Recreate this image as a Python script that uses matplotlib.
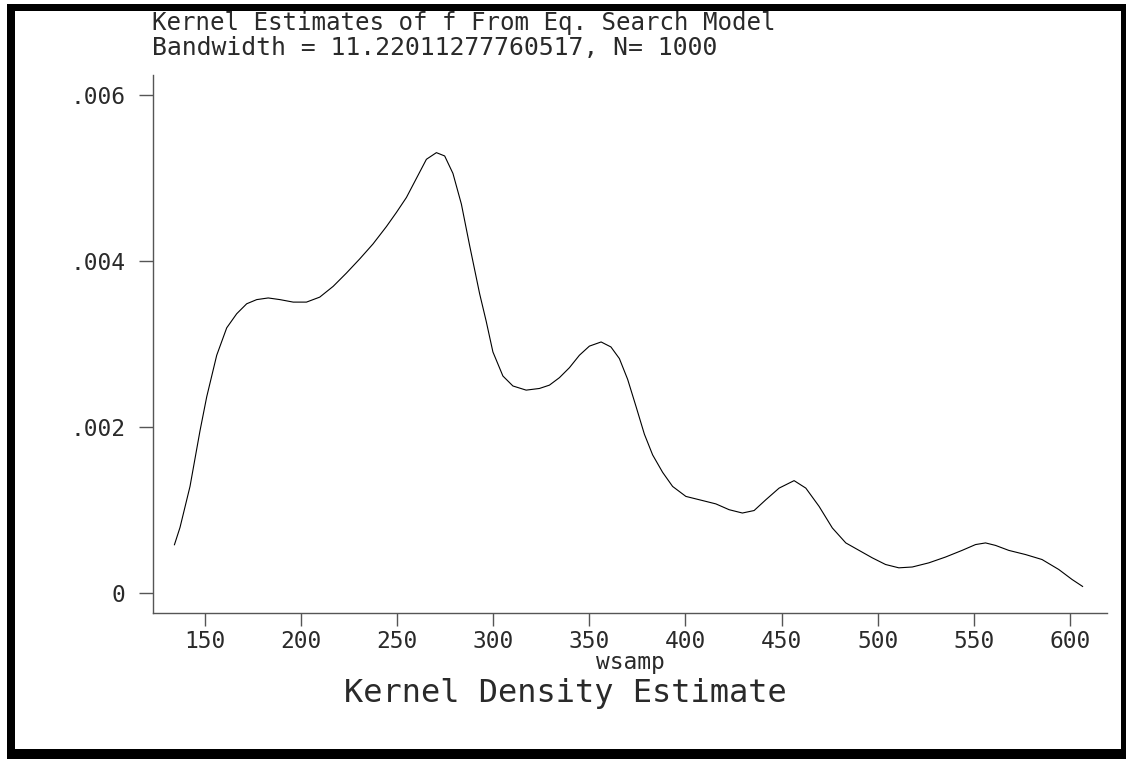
import matplotlib
matplotlib.use('Agg')
import matplotlib.pyplot as plt
from matplotlib.patches import Rectangle

# kernel density of wsamp
wsamp = [134.1, 137.0, 142.2, 147.4, 150.9, 156.1, 161.3, 166.5, 171.7, 176.9,
         182.9, 189.0, 195.9, 202.8, 209.7, 216.7, 223.6, 230.5, 237.4, 244.4,
         249.6, 254.8, 260.0, 265.2, 270.4, 274.7, 279.0, 283.4, 287.7, 292.9,
         296.3, 299.8, 305.0, 310.2, 317.1, 324.0, 329.2, 334.4, 339.6, 344.8,
         350.0, 356.1, 361.2, 365.6, 369.9, 374.3, 378.6, 382.9, 388.1, 393.3,
         400.2, 408.9, 415.8, 422.7, 429.6, 435.7, 441.8, 448.7, 456.5, 462.6,
         469.5, 476.4, 483.4, 490.3, 497.2, 504.1, 511.0, 518.0, 526.6, 535.3,
         543.9, 550.9, 556.1, 561.3, 568.2, 576.9, 585.5, 594.2, 601.1, 606.6]
density = [.000578, .000786, .00128, .00195, .00236, .00286, .00319, .00336, .00348, .00353,
           .00355, .00353, .00350, .00350, .00356, .00369, .00385, .00402, .00420, .00441,
           .00458, .00476, .00499, .00522, .00530, .00526, .00505, .00468, .00418, .00360,
           .00327, .00290, .00261, .00249, .00244, .00246, .00250, .00259, .00271, .00286,
           .00297, .00302, .00296, .00282, .00257, .00224, .00191, .00166, .00145, .00128,
           .00116, .00111, .00107, .00100, .00096, .00099, .00112, .00126, .00135, .00126,
           .00104, .00078, .00060, .00051, .00042, .00034, .00030, .00031, .00036, .00043,
           .00051, .00058, .00060, .00057, .00051, .00046, .00040, .00028, .00016, .000076]

xticks = [150, 200, 250, 300, 350, 400, 450, 500, 550, 600]
yticks = [0, .002, .004, .006]
ylabels = ['0', '.002', '.004', '.006']

title1 = 'Kernel Estimates of f From Eq. Search Model'
title2 = 'Bandwidth = 11.22011277760517, N= 1000'

W, H = 1126, 759
fig = plt.figure(figsize=(W/100, H/100), dpi=100)
font = 'DejaVu Sans Mono'
txtcol = '#2a2a2a'
axcol = '#555555'

ax = fig.add_axes([153/W, 1 - 613/H, (1107-153)/W, (613-75)/H])
ax.plot(wsamp, density, color='black', lw=0.8)
ax.set_xlim(122.95, 619.3)
ax.set_ylim(-0.000244, 0.006235)

ax.set_xticks(xticks)
ax.set_xticklabels([str(t) for t in xticks])
ax.set_yticks(yticks)
ax.set_yticklabels(ylabels)
for s in ['top', 'right']:
    ax.spines[s].set_visible(False)
for s in ['left', 'bottom']:
    ax.spines[s].set_color(axcol)
    ax.spines[s].set_linewidth(1.0)
ax.tick_params(axis='x', direction='out', length=9, width=1.0, color=axcol, pad=3,
               labelsize=16.5, labelcolor=txtcol)
ax.tick_params(axis='y', direction='out', length=10, width=1.0, color=axcol, pad=10,
               labelsize=16.5, labelcolor=txtcol)
for lab in ax.get_xticklabels() + ax.get_yticklabels():
    lab.set_family(font)

# titles and captions, placed in pixel terms
fig.text(152/W, 1 - 30/H, title1, family=font, fontsize=17.4, color=txtcol, va='baseline')
fig.text(152/W, 1 - 55/H, title2, family=font, fontsize=17.8, color=txtcol, va='baseline')
fig.text(630/W, 1 - 669/H, 'wsamp', family=font, fontsize=16.5, color=txtcol,
         ha='center', va='baseline')
fig.text(565/W, 1 - 702/H, 'Kernel Density Estimate', family=font, fontsize=23,
         color=txtcol, ha='center', va='baseline')

# heavy black frame round the page
for x0, y0, w, h in [(7, 4, 8, H), (7, 4, W, 7), (1121, 4, 10, H), (7, 749, W, 12)]:
    fig.patches.append(Rectangle((x0/W, 1 - (y0 + h)/H), w/W, h/H, transform=fig.transFigure,
                                 facecolor='black', edgecolor='none', zorder=5))

fig.savefig('out.png', dpi=100)
